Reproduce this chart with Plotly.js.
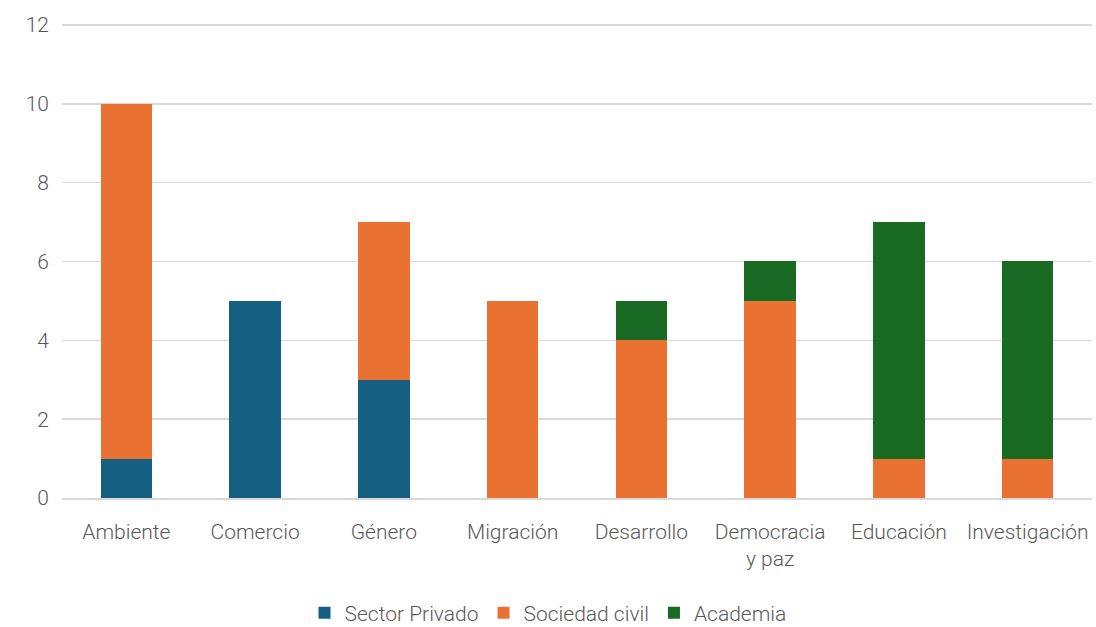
<!DOCTYPE html>
<html><head><meta charset="utf-8">
<script src="https://cdn.plot.ly/plotly-3.0.1.min.js"></script>
<style>html,body{margin:0;padding:0;background:#fff}#chart{width:1096px;height:627px}</style>
</head><body><div id="chart"></div>
<script>
const categories = ["Ambiente","Comercio","Género","Migración","Desarrollo","Democracia<br>y paz","Educación","Investigación"];
const sectorPrivado = [1,5,3,0,0,0,0,0];
const sociedadCivil = [9,0,4,5,4,5,1,1];
const academia = [0,0,0,0,1,1,6,5];
const seriesNames = ["Sector Privado","Sociedad civil","Academia"];
const colors = ["#156082","#E97132","#196B24"];
const vals = [sectorPrivado, sociedadCivil, academia];
const traces = vals.map((v,i)=>({type:"bar",x:categories,y:v,name:seriesNames[i],marker:{color:colors[i]},width:0.4,hoverinfo:"x+y+name"}));
const font = "Roboto, 'Noto Sans', sans-serif";
Plotly.newPlot("chart", traces, {
  width:1096,height:627,barmode:"stack",
  margin:{l:62,r:4,t:21,b:129,autoexpand:false},
  paper_bgcolor:"#fff",plot_bgcolor:"#fff",
  font:{family:font,color:"#595959",size:21,weight:300},
  xaxis:{showgrid:false,showline:true,linecolor:"#d9d9d9",linewidth:1.5,ticks:"",ticklabelstandoff:14,tickfont:{size:21,color:"#595959",weight:300}},
  yaxis:{range:[0,12.1],tickvals:[0,2,4,6,8,10,12],showgrid:true,gridcolor:"#d9d9d9",gridwidth:1.5,zeroline:false,ticks:"",ticklabelstandoff:12,tickfont:{size:21,color:"#595959",weight:300}},
  legend:{orientation:"h",x:0.5,xanchor:"center",xref:"container",yref:"container",y:0.022,yanchor:"middle",font:{size:21,color:"#595959",weight:300},traceorder:"normal"},
  bargap:0.6
},{displayModeBar:false,staticPlot:true});
</script></body></html>
